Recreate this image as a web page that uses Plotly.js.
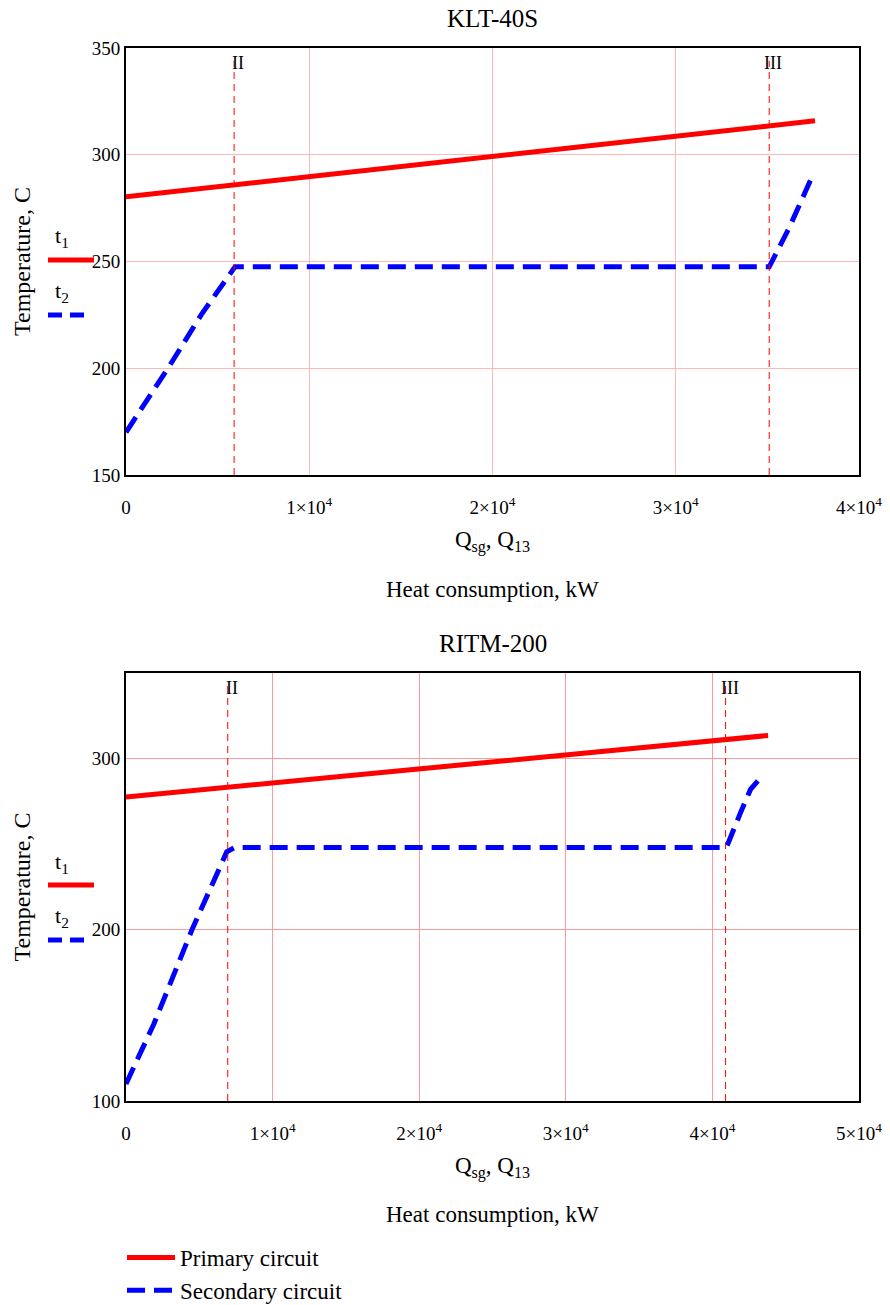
<!DOCTYPE html>
<html><head><meta charset="utf-8">
<script src="https://cdn.plot.ly/plotly-3.0.1.min.js"></script>
<style>html,body{margin:0;padding:0;background:#fff;overflow:hidden}</style>
</head><body><div id="chart" style="width:890px;height:1305px"></div>
<script>
// ---- data ----
const kltPrimaryQ = [0, 37600];
const kltPrimaryT = [280.3, 315.9];
const kltSecondaryQ = [0, 2400, 4100, 5950, 35100, 36200, 37350];
const kltSecondaryT = [170, 201.5, 225, 247.5, 247.5, 266, 288];
const ritmPrimaryQ = [0, 43800];
const ritmPrimaryT = [277.6, 313.5];
const ritmSecondaryQ = [0, 1900, 4500, 6870, 7400, 40950, 41900, 42600, 43400];
const ritmSecondaryT = [110, 145, 200, 245.5, 248, 248, 268, 282, 290];
const kltStageQ = [5900, 35100];
const ritmStageQ = [6940, 40900];
const stageLabels = ['II', 'III'];
const kltXTicks = [0, 10000, 20000, 30000, 40000];
const ritmXTicks = [0, 10000, 20000, 30000, 40000, 50000];
const xTickText = ['0', '1\u00d710<sup>4</sup>', '2\u00d710<sup>4</sup>', '3\u00d710<sup>4</sup>', '4\u00d710<sup>4</sup>', '5\u00d710<sup>4</sup>'];
const kltYTicks = [150, 200, 250, 300, 350];
const ritmYTicks = [100, 200, 300];
const seriesNames = ['Primary circuit', 'Secondary circuit'];
const chartTitles = ['KLT-40S', 'RITM-200'];

// ---- layout helpers ----
const W = 890, H = 1305, ML = 126, MR = 31, MT = 48, MB = 204;
const PW = W - ML - MR, PH = H - MT - MB;
const px = x => (x - ML) / PW;
const py = y => (H - MB - y) / PH;
const FONT = '"Liberation Serif", "Times New Roman", serif';
const RED = '#ff0000', BLUE = '#0000ff';

const traces = [
  {x: kltPrimaryQ, y: kltPrimaryT, xaxis: 'x', yaxis: 'y', mode: 'lines', name: seriesNames[0], showlegend: false,
   line: {color: RED, width: 5}},
  {x: kltSecondaryQ, y: kltSecondaryT, xaxis: 'x', yaxis: 'y', mode: 'lines', name: seriesNames[1], showlegend: false,
   line: {color: BLUE, width: 5, dash: '18px,9px'}},
  {x: ritmPrimaryQ, y: ritmPrimaryT, xaxis: 'x2', yaxis: 'y2', mode: 'lines', name: seriesNames[0],
   line: {color: RED, width: 5}},
  {x: ritmSecondaryQ, y: ritmSecondaryT, xaxis: 'x2', yaxis: 'y2', mode: 'lines', name: seriesNames[1],
   line: {color: BLUE, width: 5, dash: '18px,9px'}}
];

function xAxis(range, ticks, anchor, grid) {
  return {range: range, anchor: anchor, domain: [0, 1], automargin: false, tickvals: ticks,
    ticktext: xTickText.slice(0, ticks.length),
    showgrid: true, gridcolor: grid, gridwidth: 1, zeroline: false, showline: true, linecolor: '#000', linewidth: 2,
    mirror: true, ticks: '', ticklabelstandoff: 14, tickfont: {family: FONT, size: 19, color: '#000'},
    title: {text: 'Q<sub>sg</sub>, Q<sub>13</sub>', font: {family: FONT, size: 23, color: '#000'}, standoff: 14}};
}
function yAxis(range, ticks, anchor, domain, grid) {
  return {range: range, anchor: anchor, domain: domain, automargin: false, tickvals: ticks,
    showgrid: true, gridcolor: grid, gridwidth: 1,
    zeroline: false, showline: true, linecolor: '#000', linewidth: 2, mirror: true, ticks: '',
    tickfont: {family: FONT, size: 19, color: '#000'},
    title: {text: 'Temperature, C', font: {family: FONT, size: 24, color: '#000'}, standoff: 54}};
}

const shapes = [];
const annotations = [];
[[kltStageQ, 'x', 'y'], [ritmStageQ, 'x2', 'y2']].forEach(([qs, xa, ya]) => {
  qs.forEach((q, i) => {
    shapes.push({type: 'line', xref: xa, yref: ya + ' domain', x0: q, x1: q, y0: 0, y1: 0.97,
      line: {color: RED, width: 1, dash: '7px,5px'}});
    annotations.push({xref: xa, yref: ya + ' domain', x: q, y: 1, yanchor: 'top', yshift: -3, xshift: 4,
      text: stageLabels[i], showarrow: false, font: {family: FONT, size: 18, color: '#000'}});
  });
});
// t1 / t2 keys on the left of each panel
[[260, 237, 315, 292], [885, 863, 940, 917]].forEach(([l1, t1, l2, t2]) => {
  shapes.push({type: 'line', xref: 'paper', yref: 'paper', x0: px(48), x1: px(94), y0: py(l1), y1: py(l1),
    line: {color: RED, width: 5}});
  shapes.push({type: 'line', xref: 'paper', yref: 'paper', x0: px(48), x1: px(91), y0: py(l2), y1: py(l2),
    line: {color: BLUE, width: 5, dash: '14px,8px'}});
  annotations.push({xref: 'paper', yref: 'paper', x: px(53), y: py(t1), xanchor: 'left', yanchor: 'middle',
    text: 't<sub>1</sub>', showarrow: false, font: {family: FONT, size: 22, color: '#000'}});
  annotations.push({xref: 'paper', yref: 'paper', x: px(53), y: py(t2), xanchor: 'left', yanchor: 'middle',
    text: 't<sub>2</sub>', showarrow: false, font: {family: FONT, size: 22, color: '#000'}});
});
function centered(text, y, size) {
  annotations.push({xref: 'paper', yref: 'paper', x: 0.5, y: py(y), xanchor: 'center', yanchor: 'middle',
    text: text, showarrow: false, font: {family: FONT, size: size, color: '#000'}});
}
centered(chartTitles[0], 18, 25);
centered(chartTitles[1], 643, 25);
centered('Heat consumption, kW', 589, 23);
centered('Heat consumption, kW', 1214, 23);

const layout = {
  width: W, height: H, margin: {l: ML, r: MR, t: MT, b: MB, autoexpand: false},
  paper_bgcolor: '#fff', plot_bgcolor: '#fff', font: {family: FONT, color: '#000'},
  xaxis: xAxis([0, 40000], kltXTicks, 'y', '#ffb8b8'),
  yaxis: yAxis([150, 350], kltYTicks, 'x', [py(475), 1], '#ffb8b8'),
  xaxis2: xAxis([0, 50000], ritmXTicks, 'y2', '#ff9a9a'),
  yaxis2: yAxis([100, 350], ritmYTicks, 'x2', [0, py(673)], '#ff9a9a'),
  shapes: shapes, annotations: annotations,
  showlegend: true,
  legend: {x: px(122), y: py(1236), xanchor: 'left', yanchor: 'top', bgcolor: 'rgba(0,0,0,0)',
    font: {family: FONT, size: 23, color: '#000'}, itemwidth: 48, tracegroupgap: 0}
};

Plotly.newPlot('chart', traces, layout, {staticPlot: true, displayModeBar: false});
</script></body></html>
